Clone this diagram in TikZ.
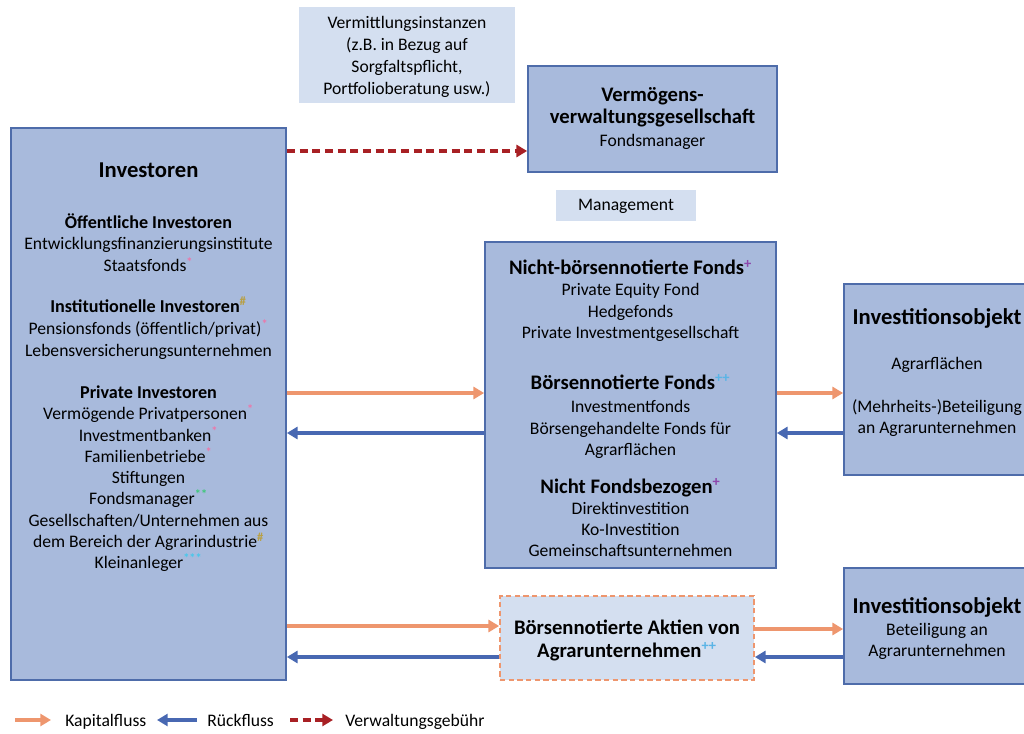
\documentclass[tikz,border=0pt]{standalone}
\usepackage{fontspec}
\setmainfont{Carlito}
\usetikzlibrary{arrows.meta,fit}
\definecolor{boxfill}{RGB}{168,186,220}
\definecolor{boxline}{RGB}{78,108,170}
\definecolor{lightfill}{RGB}{212,223,240}
\definecolor{kap}{RGB}{238,150,110}
\definecolor{rueck}{RGB}{72,104,178}
\definecolor{fee}{RGB}{168,32,36}
\definecolor{mstar}{RGB}{236,120,170}
\definecolor{mhash}{RGB}{184,160,70}
\definecolor{mgreen}{RGB}{60,200,120}
\definecolor{mcyan}{RGB}{70,200,235}
\definecolor{mplus}{RGB}{140,70,170}
\definecolor{mpp}{RGB}{90,180,230}
\newcommand\sst[2]{\textsuperscript{\bfseries\color{#1}#2}}
\begin{document}
\begin{tikzpicture}[x=0.75pt,y=-0.75pt,
  box/.style={draw=boxline, line width=1.3pt, fill=boxfill, inner sep=0pt},
  lbox/.style={fill=lightfill, inner sep=0pt},
  dbox/.style={draw=kap, fill=lightfill, dash pattern=on 4pt off 2.5pt, line width=1.3pt, inner sep=0pt},
  txt/.style={anchor=base, inner sep=0pt, font=\fontsize{13.2}{16}\selectfont},
  hd/.style={anchor=base, inner sep=0pt, font=\fontsize{13.6}{17}\selectfont\bfseries},
  hdb/.style={anchor=base, inner sep=0pt, font=\fontsize{15.5}{18}\selectfont\bfseries},
  big/.style={anchor=base, inner sep=0pt, font=\fontsize{17}{20}\selectfont\bfseries},
  kapital/.style={draw=kap, line width=2.6pt, -{Triangle[length=8pt,width=9pt]}},
  rueckfl/.style={draw=rueck, line width=2.6pt, -{Triangle[length=8pt,width=9pt]}},
  gebuehr/.style={draw=fee, line width=2.4pt, dash pattern=on 6pt off 3.5pt, -{Triangle[length=8pt,width=9pt]}}
]
\useasboundingbox (0,0) rectangle (1024,734);
\clip (0,0) rectangle (1024,734);

% boxes
\node[lbox, fit={(299,7) (515,103)}] (vm) {};
\node[box, fit={(528,66) (777,172)}] (vg) {};
\node[lbox, fit={(556,190) (696,221)}] (mg) {};
\node[box, fit={(11,128) (286,680)}] (inv) {};
\node[box, fit={(485,242) (776,568)}] (fo) {};
\node[box, fit={(844,284) (1032,475)}] (io1) {};
\node[box, fit={(844,568) (1032,684)}] (io2) {};
\node[dbox, fit={(500,596) (754,680)}] (ak) {};

% Vermittlungsinstanzen
\node[txt] (vm1) at (407,29) {Vermittlungsinstanzen};
\node[txt] (vm2) at (407,51) {(z.B. in Bezug auf};
\node[txt] (vm3) at (407,73) {Sorgfaltspflicht,};
\node[txt] (vm4) at (407,95) {Portfolioberatung usw.)};

% Vermoegensverwaltungsgesellschaft
\node[hdb] (vg1) at (652.5,102) {Vermögens-};
\node[hdb] (vg2) at (652.5,124) {verwaltungsgesellschaft};
\node[txt] (vg3) at (652.5,147) {Fondsmanager};

\node[txt] (mg1) at (626,211) {Management};

% Investoren
\node[big] (i0) at (148.5,178) {Investoren};
\node[hd] (i1) at (148.5,229) {Öffentliche Investoren};
\node[txt] (i2) at (148.5,250) {Entwicklungsfinanzierungsinstitute};
\node[txt] (i3) at (148.5,272) {Staatsfonds\sst{mstar}{*}};
\node[hd] (i4) at (148.5,312) {Institutionelle Investoren\sst{mhash}{\#}};
\node[txt] (i5) at (148.5,334) {Pensionsfonds (öffentlich/privat)\sst{mstar}{*}};
\node[txt] (i6) at (148.5,356) {Lebensversicherungsunternehmen};
\node[hd] (i7) at (148.5,398) {Private Investoren};
\node[txt] (i8) at (148.5,419) {Vermögende Privatpersonen\sst{mstar}{*}};
\node[txt] (i9) at (148.5,441) {Investmentbanken\sst{mstar}{*}};
\node[txt] (i10) at (148.5,462) {Familienbetriebe\sst{mstar}{*}};
\node[txt] (i11) at (148.5,483) {Stiftungen};
\node[txt] (i12) at (148.5,504) {Fondsmanager\sst{mgreen}{**}};
\node[txt] (i13) at (148.5,526) {Gesellschaften/Unternehmen aus};
\node[txt] (i14) at (148.5,547) {dem Bereich der Agrarindustrie\sst{mhash}{\#}};
\node[txt] (i15) at (148.5,568) {Kleinanleger\sst{mcyan}{***}};

% Fonds
\node[hdb] (f1) at (630.5,275) {Nicht-börsennotierte Fonds\sst{mplus}{+}};
\node[txt] (f2) at (630.5,296) {Private Equity Fond};
\node[txt] (f3) at (630.5,317) {Hedgefonds};
\node[txt] (f4) at (630.5,338) {Private Investmentgesellschaft};
\node[hdb] (f5) at (630.5,389) {Börsennotierte Fonds\sst{mpp}{++}};
\node[txt] (f6) at (630.5,412) {Investmentfonds};
\node[txt] (f7) at (630.5,434) {Börsengehandelte Fonds für};
\node[txt] (f8) at (630.5,455) {Agrarflächen};
\node[hdb] (f9) at (630.5,493) {Nicht Fondsbezogen\sst{mplus}{+}};
\node[txt] (f10) at (630.5,514) {Direktinvestition};
\node[txt] (f11) at (630.5,535) {Ko-Investition};
\node[txt] (f12) at (630.5,556) {Gemeinschaftsunternehmen};

% Investitionsobjekte
\node[big] (o1) at (937,325) {Investitionsobjekt};
\node[txt] (o2) at (937,369) {Agrarflächen};
\node[txt] (o3) at (937,412) {(Mehrheits-)Beteiligung};
\node[txt] (o4) at (937,433) {an Agrarunternehmen};
\node[big] (p1) at (937,613) {Investitionsobjekt};
\node[txt] (p2) at (937,635) {Beteiligung an};
\node[txt] (p3) at (937,656) {Agrarunternehmen};

% Aktien
\node[hdb] (a1) at (627,634) {Börsennotierte Aktien von};
\node[hdb] (a2) at (627,657) {Agrarunternehmen\sst{mpp}{++}};

% connectors
\draw[gebuehr] (inv.east |- 0,151) -- (vg.west |- 0,151);
\draw[kapital] (inv.east |- 0,393) -- (fo.west |- 0,393);
\draw[rueckfl] (fo.west |- 0,433) -- (inv.east |- 0,433);
\draw[kapital] (fo.east |- 0,393) -- (io1.west |- 0,393);
\draw[rueckfl] (io1.west |- 0,433) -- (fo.east |- 0,433);
\draw[kapital] (inv.east |- 0,626) -- (ak.west |- 0,626);
\draw[rueckfl] (ak.west |- 0,657) -- (inv.east |- 0,657);
\draw[kapital] (ak.east |- 0,629) -- (io2.west |- 0,629);
\draw[rueckfl] (io2.west |- 0,657) -- (ak.east |- 0,657);

% legend
\node[txt, anchor=base west] (lk) at (65,726) {Kapitalfluss};
\node[txt, anchor=base west] (lr) at (207,726) {Rückfluss};
\node[txt, anchor=base west] (lv) at (345,726) {Verwaltungsgebühr};
\coordinate (lk0) at (15,720);
\coordinate (lr0) at (197,720);
\coordinate (lv0) at (290,720);
\draw[kapital] (lk0) -- (51,720);
\draw[rueckfl] (lr0) -- (157,720);
\draw[gebuehr] (lv0) -- (333,720);
\end{tikzpicture}
\end{document}
